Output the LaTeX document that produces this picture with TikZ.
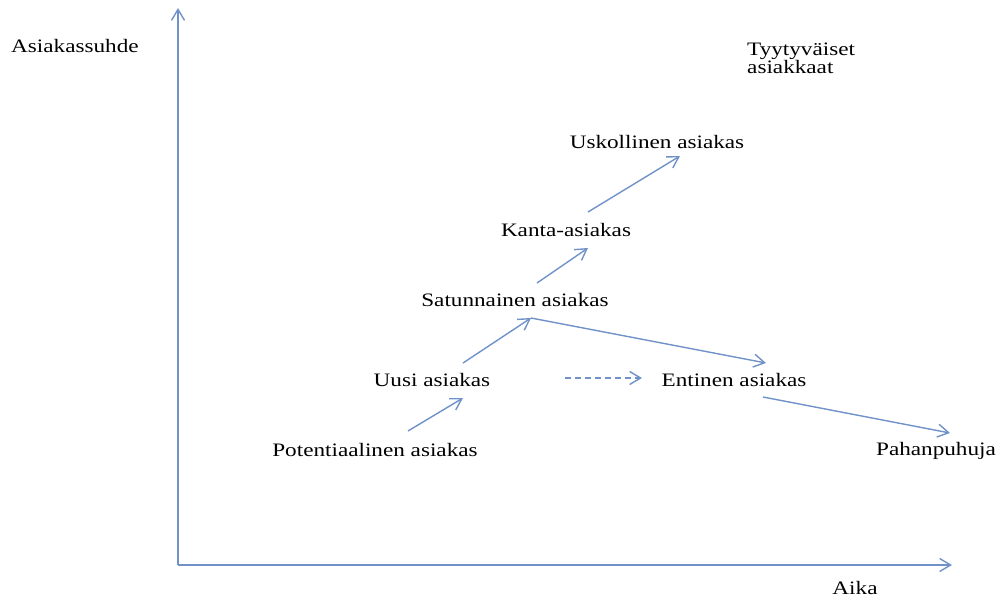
\documentclass[tikz,border=0pt]{standalone}
\usepackage{fontspec}
\setmainfont{Liberation Serif}[FakeStretch=1.22]
\usetikzlibrary{arrows.meta}
\definecolor{arrblue}{RGB}{112,146,200}
\begin{document}
\begin{tikzpicture}[x=1pt,y=-1pt,
  lbl/.style={inner sep=0pt,font=\fontsize{19}{23}\selectfont,text=black},
  conn/.style={draw=arrblue,line width=1.4pt,-{Straight Barb[length=11pt,width=13pt,line width=1.4pt]}},
  plain/.style={draw=arrblue,line width=1.4pt}]
\useasboundingbox (0,0) rectangle (1003,599);
% axes
\coordinate (o) at (178,565);
\coordinate (ytop) at (178,8);
\coordinate (xend) at (952,565);
\draw[conn] (o) -- (ytop);
\draw[conn] (o) -- (xend);
% labels
\node[lbl,anchor=west] (yl) at (11,46) {Asiakassuhde};
\node[lbl,anchor=west,align=left] (ty) at (747,58) {Tyytyväiset\\[-5pt]asiakkaat};
\node[lbl] (usk) at (657,142) {Uskollinen asiakas};
\node[lbl] (kanta) at (566,230) {Kanta-asiakas};
\node[lbl] (sat) at (515,300) {Satunnainen asiakas};
\node[lbl] (uusi) at (432,380) {Uusi asiakas};
\node[lbl] (ent) at (734,380) {Entinen asiakas};
\node[lbl] (pot) at (375,450) {Potentiaalinen asiakas};
\node[lbl] (pah) at (936,451) {Pahanpuhuja};
\node[lbl] (aika) at (855,588) {Aika};
% connector endpoints
\coordinate (p1) at (408,431);
\coordinate (u1) at (463,398);
\coordinate (u2) at (463,363);
\coordinate (apex) at (531,318);
\coordinate (e1) at (766,363);
\coordinate (s2) at (537,283);
\coordinate (k1) at (588,248);
\coordinate (k2) at (588,212);
\coordinate (us1) at (680,156);
\coordinate (d1) at (565,378);
\coordinate (d2) at (642,378);
\coordinate (e2) at (763,397);
\coordinate (ph1) at (950,433);
% connectors
\draw[conn] (p1) -- (u1);
\draw[conn] (u2) -- (apex);
\draw[conn] (apex) -- (e1);
\draw[conn] (s2) -- (k1);
\draw[conn] (k2) -- (us1);
\draw[conn,dashed,dash pattern=on 6pt off 4pt] (d1) -- (d2);
\draw[conn] (e2) -- (ph1);
\end{tikzpicture}
\end{document}
